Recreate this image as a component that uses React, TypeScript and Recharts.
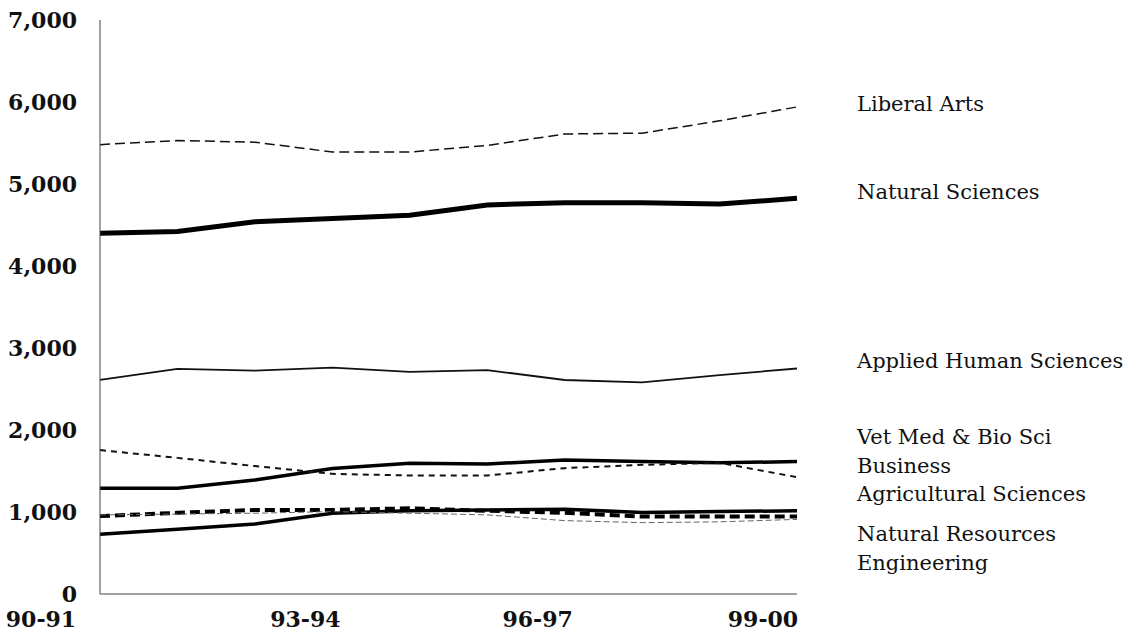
import React from 'react';
import { LineChart, Line, XAxis, YAxis } from 'recharts';

const years = ['90-91', '91-92', '92-93', '93-94', '94-95', '95-96', '96-97', '97-98', '98-99', '99-00'];

const liberalArts = [5480, 5530, 5510, 5390, 5390, 5470, 5610, 5620, 5770, 5940];
const naturalSciences = [4400, 4420, 4540, 4580, 4620, 4745, 4770, 4770, 4755, 4825];
const appliedHuman = [2610, 2745, 2725, 2760, 2710, 2730, 2610, 2580, 2670, 2750];
const vetMed = [1290, 1290, 1390, 1530, 1595, 1585, 1635, 1615, 1600, 1615];
const business = [1755, 1660, 1560, 1465, 1445, 1445, 1535, 1575, 1600, 1425];
const agricultural = [730, 790, 855, 985, 1015, 1025, 1035, 995, 1005, 1015];
const naturalResources = [950, 990, 1025, 1025, 1045, 1015, 990, 945, 945, 945];
const engineering = [965, 975, 985, 1005, 985, 965, 895, 870, 880, 910];

const yTicks = [0, 1000, 2000, 3000, 4000, 5000, 6000, 7000];

const data = years.map((year, i) => ({
    year,
    liberalArts: liberalArts[i],
    naturalSciences: naturalSciences[i],
    appliedHuman: appliedHuman[i],
    vetMed: vetMed[i],
    business: business[i],
    agricultural: agricultural[i],
    naturalResources: naturalResources[i],
    engineering: engineering[i],
}));

const serif = '"DejaVu Serif", serif';

// label text next to the last point of each series
const endLabel = (text: string, dy: number) => (props: any) => {
    const { x, y, index } = props;
    if (index !== years.length - 1) return null;
    return (
        <text
            key={text}
            x={x + 60}
            y={y + dy}
            dominantBaseline="central"
            fontFamily={serif}
            fontSize={21}
            fill="#111"
        >
            {text}
        </text>
    );
};

const xOffsets: Record<string, number> = { '90-91': -59, '93-94': -27, '96-97': -27, '99-00': -34 };

const XTick = (props: any) => {
    const { x, y, payload } = props;
    return (
        <text
            x={x + (xOffsets[payload.value] ?? 0)}
            y={y}
            dy="0.71em"
            textAnchor="middle"
            fontFamily={serif}
            fontWeight="bold"
            fontSize={22}
            fill="#111"
        >
            {payload.value}
        </text>
    );
};

const App: React.FC = () => {
    return (
        <div style={{ position: 'absolute', left: 0, top: 0, background: '#fff' }}>
            <LineChart width={1136} height={634} data={data} margin={{ top: 20, right: 339, left: 0, bottom: 0 }}>
                <XAxis
                    dataKey="year"
                    interval={2}
                    height={40}
                    tickLine={false}
                    tickSize={0}
                    tickMargin={17}
                    stroke="#444"
                    tick={<XTick />}
                />
                <YAxis
                    domain={[0, 7000]}
                    ticks={yTicks}
                    width={100}
                    tickLine={false}
                    tickSize={0}
                    tickMargin={23}
                    stroke="#444"
                    tickFormatter={(v: number) => v.toLocaleString('en-US')}
                    tick={{ fontFamily: serif, fontWeight: 'bold', fontSize: 22, fill: '#111' }}
                />
                <Line dataKey="liberalArts" stroke="#111" strokeWidth={1.5} strokeDasharray="10 5" dot={false} isAnimationActive={false} label={endLabel('Liberal Arts', -3)} />
                <Line dataKey="naturalSciences" stroke="#000" strokeWidth={5} dot={false} isAnimationActive={false} label={endLabel('Natural Sciences', -6)} />
                <Line dataKey="appliedHuman" stroke="#111" strokeWidth={1.8} dot={false} isAnimationActive={false} label={endLabel('Applied Human Sciences', -8)} />
                <Line dataKey="vetMed" stroke="#000" strokeWidth={3.5} dot={false} isAnimationActive={false} label={endLabel('Vet Med & Bio Sci', -25)} />
                <Line dataKey="business" stroke="#111" strokeWidth={2} strokeDasharray="6 5" dot={false} isAnimationActive={false} label={endLabel('Business', -11)} />
                <Line dataKey="agricultural" stroke="#000" strokeWidth={3.5} dot={false} isAnimationActive={false} label={endLabel('Agricultural Sciences', -17)} />
                <Line dataKey="naturalResources" stroke="#000" strokeWidth={4} strokeDasharray="10 5" dot={false} isAnimationActive={false} label={endLabel('Natural Resources', 17)} />
                <Line dataKey="engineering" stroke="#666" strokeWidth={1} strokeDasharray="6 3" dot={false} isAnimationActive={false} label={endLabel('Engineering', 44)} />
            </LineChart>
        </div>
    );
};

export default App;
